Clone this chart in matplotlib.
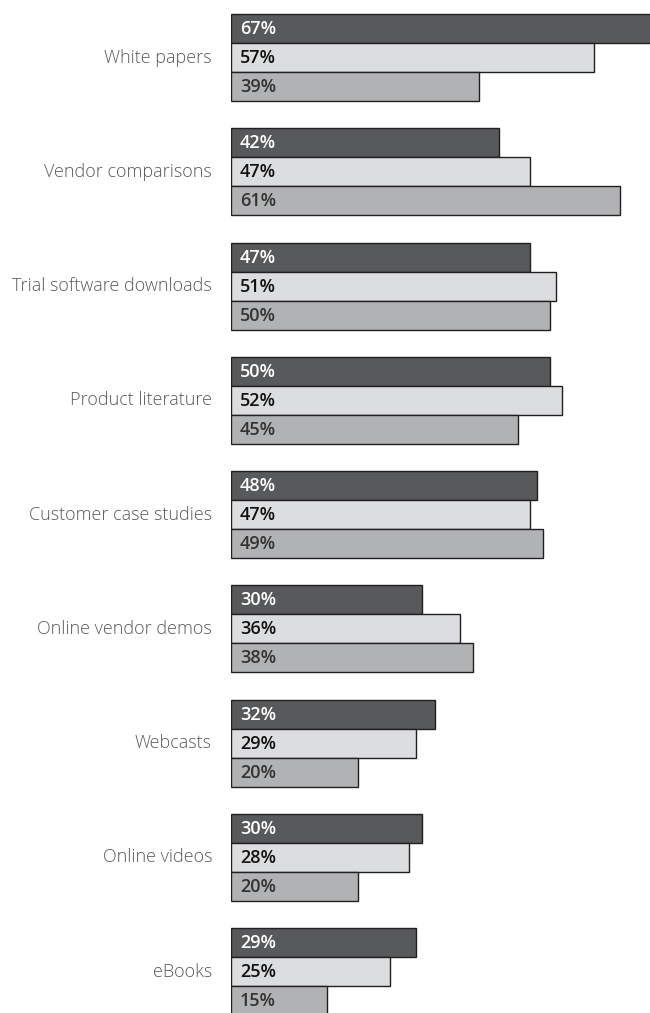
import matplotlib
matplotlib.use("Agg")
import matplotlib.pyplot as plt

categories = [
    "White papers", "Vendor comparisons", "Trial software downloads",
    "Product literature", "Customer case studies", "Online vendor demos",
    "Webcasts", "Online videos", "eBooks",
]
series_a = [67, 42, 47, 50, 48, 30, 32, 30, 29]
series_b = [57, 47, 51, 52, 47, 36, 29, 28, 25]
series_c = [39, 61, 50, 45, 49, 38, 20, 20, 15]

fills = ["#58595b", "#dcdddf", "#b1b2b4"]
text_colors = ["#ffffff", "#111111", "#333333"]

W, H = 650, 1013
fig = plt.figure(figsize=(W / 100, H / 100), dpi=100)
left_px = 231
px_per_unit = 6.37
ax = fig.add_axes([left_px / W, 0, 1 - left_px / W, 1])
ax.set_xlim(0, (W - left_px) / px_per_unit)
ax.set_ylim(H, 0)
ax.axis("off")

top = 14.0
pitch = 114.25
bar_h = 29.0

for i, cat in enumerate(categories):
    vals = [series_a[i], series_b[i], series_c[i]]
    for j, v in enumerate(vals):
        yc = top + i * pitch + (j + 0.5) * bar_h
        ax.barh(yc, v, height=bar_h, left=0, color=fills[j],
                edgecolor="#231f20", linewidth=1.0)
        ax.text(9 / px_per_unit, yc + 0.5, f"{v}%", ha="left", va="center",
                fontsize=13, fontfamily="Open Sans", fontweight="semibold",
                color=text_colors[j])
    ymid = top + i * pitch + 1.5 * bar_h
    ax.text(-19 / px_per_unit, ymid, cat, ha="right", va="center",
            fontsize=13, fontfamily="Open Sans", fontweight="light",
            color="#58595b", clip_on=False)

fig.savefig("out.png", dpi=100)
